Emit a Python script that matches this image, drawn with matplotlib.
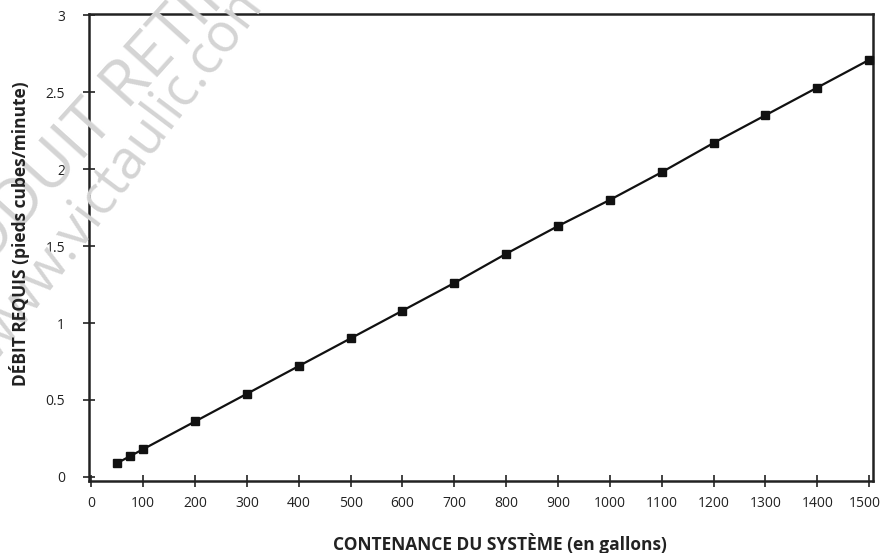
import matplotlib.pyplot as plt
import matplotlib.transforms as mtransforms

# System capacity (gallons) vs required flow (cubic feet / minute)
capacity = [50, 75, 100, 200, 300, 400, 500, 600, 700, 800, 900, 1000, 1100, 1200, 1300, 1400, 1500]
flow = [0.09, 0.135, 0.18, 0.36, 0.54, 0.72, 0.90, 1.08, 1.26, 1.45, 1.63, 1.80, 1.98, 2.17, 2.35, 2.53, 2.71]

x_ticks = [0, 100, 200, 300, 400, 500, 600, 700, 800, 900, 1000, 1100, 1200, 1300, 1400, 1500]
y_ticks = [0, 0.5, 1, 1.5, 2, 2.5, 3]
y_tick_labels = ['0', '0.5', '1', '1.5', '2', '2.5', '3']

plt.rcParams['font.family'] = ['Open Sans', 'DejaVu Sans']

fig = plt.figure(figsize=(8.82, 5.53), dpi=100)
ax = fig.add_axes([0.1006, 0.1307, 0.8889, 0.8431])
ax.set_facecolor('none')

# watermark
wm = '#d4d4d4'
fig.text(-0.006, 0.345, 'www.victaulic.com', rotation=53, rotation_mode='anchor',
         fontsize=39, color=wm, ha='left', va='baseline', zorder=0)
fig.text(-0.075, 0.41, 'PRODUIT RETIRÉ', rotation=48, rotation_mode='anchor',
         fontsize=46, color=wm, ha='left', va='baseline', zorder=0)

ax.plot(capacity, flow, color='#111111', linewidth=1.6, marker='s', markersize=5.5,
        markerfacecolor='#111111', markeredgecolor='#111111', clip_on=False, zorder=3)

ax.set_xlim(-5, 1507)
ax.set_ylim(-0.025, 3.005)
ax.set_xticks(x_ticks)
ax.set_yticks(y_ticks)
ax.set_yticklabels(y_tick_labels)

for s in ax.spines.values():
    s.set_linewidth(1.8)
    s.set_color('#222222')

ax.tick_params(axis='both', direction='inout', length=9, width=1.2, color='#222222',
               labelsize=10, labelcolor='#222222')
ax.tick_params(axis='x', pad=6.5)
ax.tick_params(axis='y', pad=12.5)

# keep the last x label inside the canvas
last = ax.get_xticklabels()[-1]
last.set_transform(last.get_transform() + mtransforms.ScaledTranslation(-4 / 100, 0, fig.dpi_scale_trans))

fig.text(500 / 882, 1 - 543 / 553, 'CONTENANCE DU SYSTÈME (en gallons)', ha='center', va='center',
         fontsize=12.5, fontweight='bold', color='#222222')
fig.text(20 / 882, 1 - 233.5 / 553, 'DÉBIT REQUIS (pieds cubes/minute)', ha='center', va='center',
         rotation=90, fontsize=12.5, fontweight='bold', color='#222222')

plt.savefig('out.png', dpi=100)
